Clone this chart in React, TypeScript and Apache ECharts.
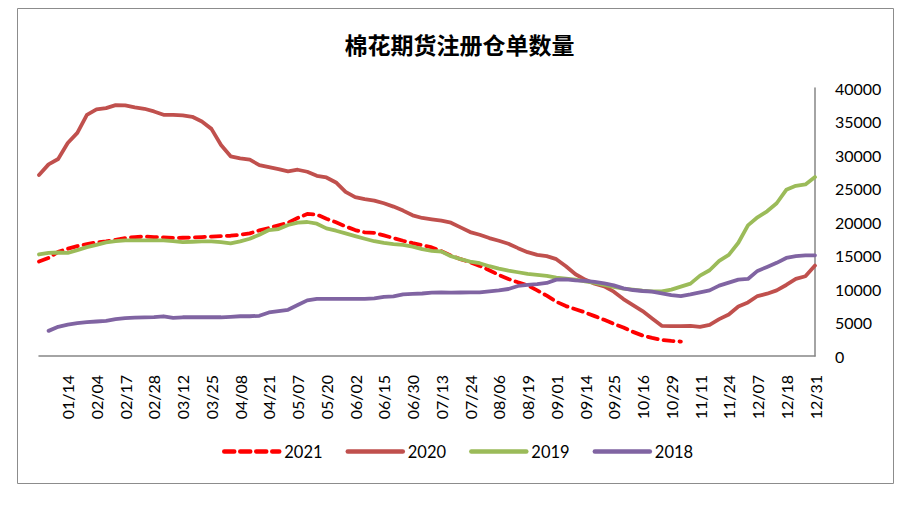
import React, { useEffect, useRef } from "react";
import * as echarts from "echarts";

const categories = [
  "01/02", "01/07", "01/10", "01/14", "01/19", "01/25", "02/04", "02/07", "02/12", "02/17",
  "02/20", "02/25", "02/28", "03/04", "03/09", "03/12", "03/17", "03/20", "03/25", "03/30",
  "04/02", "04/08", "04/13", "04/16", "04/21", "04/26", "04/30", "05/07", "05/12", "05/15",
  "05/20", "05/25", "05/28", "06/02", "06/05", "06/10", "06/15", "06/18", "06/23", "06/30",
  "07/05", "07/08", "07/13", "07/16", "07/21", "07/24", "07/29", "08/01", "08/06", "08/11",
  "08/14", "08/19", "08/24", "08/27", "09/01", "09/04", "09/09", "09/14", "09/17", "09/22",
  "09/25", "10/09", "10/13", "10/16", "10/21", "10/26", "10/29", "11/03", "11/08", "11/11",
  "11/16", "11/19", "11/24", "11/29", "12/02", "12/07", "12/10", "12/15", "12/18", "12/23",
  "12/28", "12/31",
];

const s2021: (number | null)[] = [
  14100, 14650, 15550, 16000, 16400, 16700, 16950, 17100, 17350, 17600,
  17750, 17830, 17750, 17700, 17620, 17650, 17700, 17750, 17830, 17900,
  17950, 18100, 18300, 18750, 19100, 19500, 19900, 20600, 21200, 21100,
  20500, 19950, 19350, 18800, 18450, 18380, 18000, 17600, 17200, 16850,
  16550, 16200, 15650, 15000, 14450, 14000, 13450, 12800, 12100, 11500,
  11000, 10550, 9800, 9000, 8100, 7450, 6980, 6500, 5950, 5400,
  4800, 4250, 3600, 3050, 2700, 2400, 2250, 2150, null, null,
  null, null, null, null, null, null, null, null, null, null,
  null, null,
];

const s2020: (number | null)[] = [
  27000, 28600, 29400, 31800, 33300, 36000, 36800, 37000, 37450, 37400,
  37100, 36900, 36500, 36000, 36000, 35900, 35700, 35000, 33900, 31500,
  29800, 29500, 29300, 28500, 28200, 27900, 27550, 27800, 27500, 26900,
  26650, 25900, 24500, 23700, 23400, 23200, 22800, 22300, 21700, 21000,
  20600, 20400, 20200, 19900, 19200, 18500, 18100, 17600, 17200, 16750,
  16100, 15500, 15100, 14900, 14450, 13400, 12200, 11400, 10800, 10400,
  9600, 8500, 7600, 6700, 5600, 4500, 4450, 4450, 4500, 4350,
  4650, 5500, 6200, 7400, 8000, 8950, 9300, 9800, 10600, 11500,
  11900, 13500,
];

const s2019: (number | null)[] = [
  15150, 15400, 15450, 15380, 15800, 16250, 16600, 16950, 17150, 17250,
  17250, 17250, 17250, 17250, 17150, 17000, 17050, 17100, 17100, 17000,
  16800, 17100, 17500, 18100, 18800, 18950, 19550, 19900, 20000, 19750,
  19050, 18700, 18300, 17900, 17500, 17130, 16870, 16700, 16580, 16330,
  15950, 15700, 15600, 14900, 14450, 14100, 13850, 13400, 13050, 12750,
  12500, 12250, 12100, 11950, 11700, 11550, 11400, 11150, 10900, 10600,
  10300, 10050, 9900, 9750, 9660, 9660, 9900, 10350, 10800, 12000,
  12800, 14200, 15100, 16900, 19500, 20700, 21600, 22800, 24800, 25400,
  25600, 26700,
];

const s2018: (number | null)[] = [
  null, 3750, 4350, 4680, 4900, 5050, 5150, 5250, 5500, 5650,
  5720, 5760, 5800, 5930, 5700, 5780, 5780, 5780, 5780, 5780,
  5850, 5930, 5930, 6000, 6500, 6700, 6900, 7600, 8300, 8520,
  8520, 8520, 8520, 8520, 8520, 8600, 8820, 8900, 9200, 9280,
  9330, 9450, 9500, 9450, 9480, 9500, 9500, 9650, 9780, 10000,
  10450, 10600, 10730, 10900, 11400, 11450, 11280, 11200, 11050, 10850,
  10550, 10100, 9850, 9700, 9600, 9350, 9100, 8950, 9200, 9500,
  9800, 10500, 10950, 11400, 11500, 12700, 13300, 13900, 14630, 14900,
  15020, 15020,
];

const seriesNames = ["2021", "2020", "2019", "2018"];
const yTicks = { min: 0, max: 40000, interval: 5000 };

export default function App() {
  const ref = useRef<HTMLDivElement>(null);

  useEffect(() => {
    if (!ref.current) return;
    const chart = echarts.init(ref.current, undefined, { renderer: "svg" });
    const font = "Lato, 'Noto Sans', sans-serif";
    const mk = (name: string, data: (number | null)[], color: string, dashed: boolean) => ({
      name,
      type: "line",
      data,
      symbol: "none",
      showSymbol: false,
      connectNulls: false,
      lineStyle: {
        color,
        width: 3.8,
        type: dashed ? [10, 6] : "solid",
        cap: "round",
        join: "round",
      },
      itemStyle: { color },
    });
    chart.setOption({
      animation: false,
      backgroundColor: "#ffffff",
      title: {
        text: "棉花期货注册仓单数量",
        left: "center",
        top: 19,
        textStyle: {
          fontFamily: "'Noto Sans CJK SC', sans-serif",
          fontSize: 23,
          fontWeight: "bold",
          color: "#000",
        },
      },
      graphic: [
        {
          type: "rect",
          shape: { x: 9.5, y: 0.5, width: 876, height: 475 },
          style: { fill: "none", stroke: "#8c8c8c", lineWidth: 1 },
          silent: true,
        },
      ],
      legend: {
        data: seriesNames,
        left: 209,
        top: 430,
        itemWidth: 55,
        itemHeight: 14,
        itemGap: 23,
        itemStyle: { opacity: 0 },
        lineStyle: { width: 4.5 },
        textStyle: { fontFamily: font, fontSize: 16.5, color: "#000" },
      },
      grid: { left: 31, right: 96, top: 80, bottom: 150, containLabel: false },
      xAxis: {
        type: "category",
        data: categories,
        boundaryGap: false,
        axisLine: { show: true, lineStyle: { color: "#868686", width: 1.5 } },
        axisTick: { show: false },
        axisLabel: {
          rotate: 90,
          margin: 19,
          fontFamily: font,
          fontSize: 16,
          color: "#000",
          interval: (index: number) => index > 0 && index % 3 === 0,
        },
        splitLine: { show: false },
      },
      yAxis: {
        type: "value",
        position: "right",
        min: yTicks.min,
        max: yTicks.max,
        interval: yTicks.interval,
        axisLine: { show: true, lineStyle: { color: "#868686", width: 1.5 } },
        axisTick: { show: false },
        splitLine: { show: false },
        axisLabel: {
          margin: 20,
          fontFamily: font,
          fontSize: 16,
          color: "#000",
          align: "left",
          formatter: (v: number) => String(v),
        },
      },
      series: [
        mk("2021", s2021, "#FF0000", true),
        mk("2020", s2020, "#C0504D", false),
        mk("2019", s2019, "#9BBB59", false),
        mk("2018", s2018, "#8064A2", false),
      ],
    });
    return () => chart.dispose();
  }, []);

  return <div ref={ref} style={{ width: 903, height: 498 }} />;
}
